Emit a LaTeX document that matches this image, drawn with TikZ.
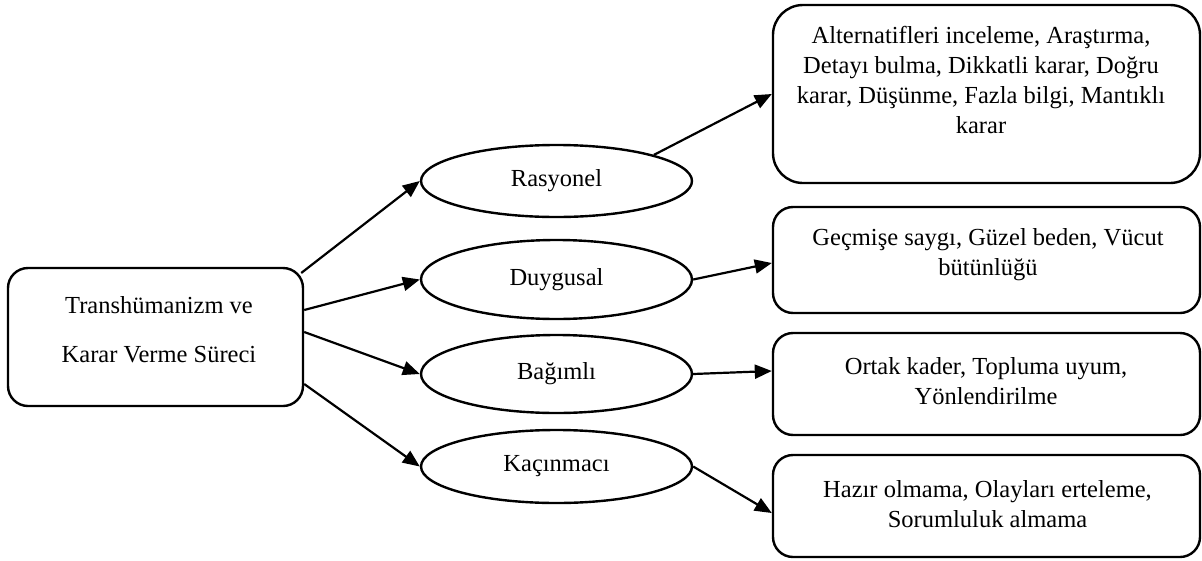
\documentclass[tikz,border=0pt]{standalone}
\usepackage{fontspec}
\setmainfont{Liberation Serif}
\usetikzlibrary{arrows.meta,shapes.geometric}
\begin{document}
\begin{tikzpicture}[x=1pt,y=-1pt,
  every node/.style={font=\fontsize{24.5}{30}\selectfont},
  rbox/.style={draw, line width=2.4pt, rounded corners=20pt, inner sep=0pt},
  ell/.style={draw, ellipse, line width=2.4pt, minimum width=271pt, inner sep=0pt},
  txt/.style={align=center, inner sep=0pt},
  arr/.style={line width=2.2pt, -{Triangle[length=17pt,width=14pt]}}
]
\useasboundingbox (0,0) rectangle (1202,560);

% main box
\node[rbox, minimum width=295pt, minimum height=138pt] (main) at (155.5,337) {};
\node[txt, font=\fontsize{24.5}{49}\selectfont] (t0) at (159,330) {Transhümanizm ve\\Karar Verme Süreci};

% ellipses
\node[ell, minimum height=72pt] (r) at (556.5,181) {Rasyonel};
\node[ell, minimum height=79pt] (d) at (556.5,279.5) {Duygusal};
\node[ell, minimum height=78pt] (g) at (556.5,374) {Bağımlı};
\node[ell, minimum height=73pt] (k) at (556.5,466.5) {Kaçınmacı};

% right boxes
\node[rbox, rounded corners=30pt, minimum width=427pt, minimum height=178pt] (b1) at (986.5,94) {};
\node[rbox, minimum width=427pt, minimum height=106pt] (b2) at (986.5,260) {};
\node[rbox, minimum width=427pt, minimum height=102pt] (b3) at (986.5,384) {};
\node[rbox, minimum width=427pt, minimum height=102pt] (b4) at (986.5,506) {};

\node[txt] (t1) at (981,80) {Alternatifleri inceleme, Araştırma,\\Detayı bulma, Dikkatli karar, Doğru\\karar, Düşünme, Fazla bilgi, Mantıklı\\karar};
\node[txt] (t2) at (988,255) {Geçmişe saygı, Güzel beden, Vücut\\bütünlüğü};
\node[txt] (t3) at (986,381) {Ortak kader, Topluma uyum,\\Yönlendirilme};
\node[txt] (t4) at (987.5,504) {Hazır olmama, Olayları erteleme,\\Sorumluluk almama};

% connectors
\draw[arr] ([yshift=64pt,xshift=-3pt]main.east) -- (r.west);
\draw[arr] ([yshift=27pt]main.east) -- (d.west);
\draw[arr] ([yshift=5pt]main.east) -- (g.west);
\draw[arr] ([yshift=-47pt]main.east) -- (k.west);

\draw[arr] (r.15) -- (b1.west);
\draw[arr] (d.east) -- ([yshift=-3pt]b2.west);
\draw[arr] (g.east) -- ([yshift=13pt]b3.west);
\draw[arr] (k.east) -- ([yshift=-7pt]b4.west);
\end{tikzpicture}
\end{document}
